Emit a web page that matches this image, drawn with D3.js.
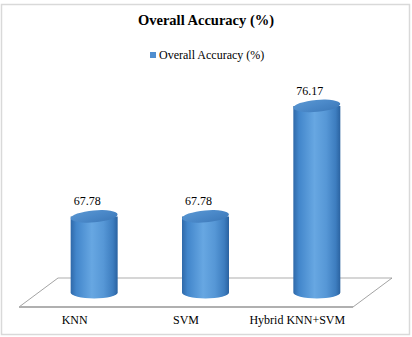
<!DOCTYPE html>
<html>
<head>
<meta charset="utf-8">
<script src="https://cdn.jsdelivr.net/npm/d3@7"></script>
<style>
  html, body { margin: 0; padding: 0; background: #fff; }
  svg { display: block; }
</style>
</head>
<body>
<svg id="chart" width="412" height="337"></svg>
<script>
const categories = ["KNN", "SVM", "Hybrid KNN+SVM"];
const values = [67.78, 67.78, 76.17];
const seriesName = "Overall Accuracy (%)";
const title = "Overall Accuracy (%)";
const yDomain = [62, 77];

const FONT = "Liberation Serif";
const svg = d3.select("#chart").attr("font-family", FONT);

// outer border
svg.append("rect").attr("x", 1.5).attr("y", 4.5).attr("width", 408).attr("height", 330)
  .attr("fill", "#fff").attr("stroke", "#d9d9d9").attr("stroke-width", 1.5);

// title
svg.append("text").attr("x", 206).attr("y", 25).attr("text-anchor", "middle")
  .attr("font-family", FONT).attr("font-size", 14.5).attr("font-weight", "bold").text(title);

// legend
svg.append("rect").attr("x", 150).attr("y", 52).attr("width", 6).attr("height", 6).attr("fill", "#4f8ed0");
svg.append("text").attr("x", 159).attr("y", 58.5).attr("font-family", FONT).attr("font-size", 12).text(seriesName);

// geometry
const frontY = 307, depthX = 39, depthY = 29;
const x = d3.scaleBand().domain(categories).range([19, 353]).paddingInner(0).paddingOuter(0);
const baseY = frontY - depthY / 2;
const y = d3.scaleLinear().domain(yDomain).range([baseY, baseY - (yDomain[1] - yDomain[0]) * 13.17]);

// floor
const floorG = svg.append("g");
const x0 = x.range()[0], x1 = x.range()[1];
floorG.append("line").attr("x1", x0 + depthX).attr("y1", frontY - depthY).attr("x2", x1 + depthX).attr("y2", frontY - depthY)
  .attr("stroke", "#c8c8c8").attr("stroke-width", 1.5);
floorG.append("line").attr("x1", x0).attr("y1", frontY).attr("x2", x0 + depthX).attr("y2", frontY - depthY)
  .attr("stroke", "#8c8c8c").attr("stroke-width", 0.8);
floorG.append("line").attr("x1", x1).attr("y1", frontY).attr("x2", x1 + depthX).attr("y2", frontY - depthY)
  .attr("stroke", "#8c8c8c").attr("stroke-width", 0.8);
floorG.append("line").attr("x1", x0).attr("y1", frontY).attr("x2", x1).attr("y2", frontY)
  .attr("stroke", "#b0b0b0").attr("stroke-width", 2);

// gradients
const defs = svg.append("defs");
const gb = defs.append("linearGradient").attr("id", "body").attr("x1", "0").attr("x2", "1").attr("y1", "0").attr("y2", "0");
[[0, "#2f69a9"], [0.12, "#4286cb"], [0.45, "#67a7e2"], [0.7, "#5697d6"], [0.9, "#3d7dbf"], [1, "#2a62a0"]]
  .forEach(([o, c]) => gb.append("stop").attr("offset", o).attr("stop-color", c));
const gt = defs.append("linearGradient").attr("id", "top").attr("x1", "0").attr("x2", "1").attr("y1", "0").attr("y2", "1");
[[0, "#5a97d2"], [0.5, "#4a88c8"], [1, "#3c78b8"]]
  .forEach(([o, c]) => gt.append("stop").attr("offset", o).attr("stop-color", c));

const rx = 23.5, ry = 6;
const bars = svg.append("g").selectAll("g").data(categories).join("g");
bars.each(function(c, i) {
  const g = d3.select(this);
  const cx = x(c) + x.bandwidth() / 2 + depthX / 2;
  const yt = y(values[i]);
  const yb = y(yDomain[0]);
  g.append("path")
    .attr("d", `M${cx - rx},${yt} L${cx - rx},${yb} A${rx},${ry} 0 0 0 ${cx + rx},${yb} L${cx + rx},${yt} Z`)
    .attr("fill", "url(#body)");
  g.append("ellipse").attr("cx", cx).attr("cy", yt).attr("rx", rx).attr("ry", ry)
    .attr("transform", `rotate(-5 ${cx} ${yt})`)
    .attr("fill", "url(#top)");
  g.append("text").attr("x", cx - 7).attr("y", yt - 11).attr("text-anchor", "middle")
    .attr("font-family", FONT).attr("font-size", 12).text(values[i].toFixed(2));
});

// category labels
svg.append("g").selectAll("text").data(categories).join("text")
  .attr("x", d => x(d) + x.bandwidth() / 2)
  .attr("y", 324)
  .attr("text-anchor", "middle")
  .attr("font-family", FONT)
  .attr("font-size", 12)
  .text(d => d);
</script>
</body>
</html>
